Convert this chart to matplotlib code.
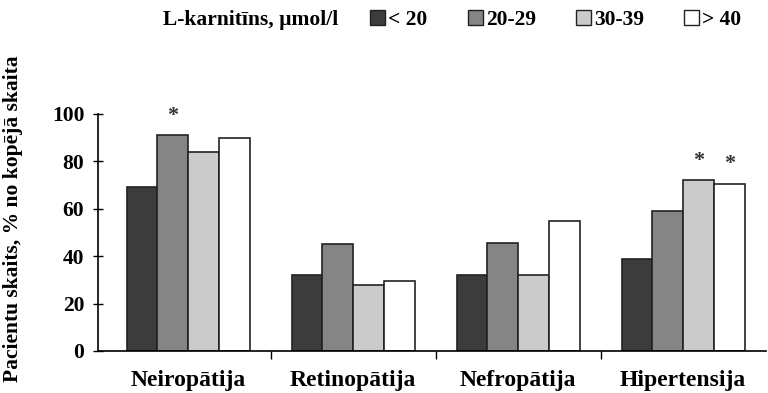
import matplotlib.pyplot as plt
import numpy as np
from matplotlib.patches import Patch

plt.rcParams["font.family"] = ["Liberation Serif", "DejaVu Serif"]
plt.rcParams["font.weight"] = "bold"

categories = ["Neiropātija", "Retinopātija", "Nefropātija", "Hipertensija"]
groups = ["< 20", "20-29", "30-39", "> 40"]
values = [
    [69, 32, 32, 39],   # < 20
    [91, 45, 45.5, 59],  # 20-29
    [84, 28, 32, 72],   # 30-39
    [90, 29.5, 55, 70.5],  # > 40
]
colors = ["#3c3c3c", "#858585", "#cbcbcb", "#ffffff"]
# significance marks: (group index, category index)
stars = [(1, 0), (2, 3), (3, 3)]

fig = plt.figure(figsize=(7.68, 3.93), dpi=100)
ax = fig.add_axes([0.127, 0.107, 0.87, 0.603])

x = np.arange(len(categories))
w = 0.187
for i, (vals, c) in enumerate(zip(values, colors)):
    ax.bar(x + (i - 1.5) * w, vals, w, color=c, edgecolor="#222222", linewidth=1.2)

for g, k in stars:
    ax.text(x[k] + (g - 1.5) * w, values[g][k] + 4, "*", ha="center", va="bottom",
            fontsize=16, color="#333333")

ax.set_xlim(-0.55, 3.5)
ax.set_ylim(0, 100)
ax.set_yticks([0, 20, 40, 60, 80, 100])
ax.set_xticks(x)
ax.set_xticklabels(categories)
ax.set_xticks([0.5, 1.5, 2.5], minor=True)
ax.tick_params(axis="x", which="major", length=0, labelsize=17, pad=14)
ax.tick_params(axis="x", which="minor", length=6, direction="out", width=1)
ax.tick_params(axis="y", length=7, direction="inout", width=1, labelsize=15.5, pad=6)
ax.set_ylabel("Pacientu skaits, % no kopējā skaita", fontsize=15.5, fontweight="bold")
ax.yaxis.set_label_coords(-0.112, 0.56)
for s in ["top", "right"]:
    ax.spines[s].set_visible(False)
ax.spines["left"].set_linewidth(1.2)
ax.spines["bottom"].set_linewidth(1.2)

fig.text(0.212, 0.949, "L-karnitīns, µmol/l", fontsize=15.5, va="center")
handles = [Patch(facecolor=c, edgecolor="#222222", linewidth=1) for c in colors]
fig.legend(handles, groups, loc="center left", bbox_to_anchor=(0.482, 0.949), ncol=4,
           frameon=False, fontsize=15.5, handlelength=0.7, handleheight=0.7,
           handletextpad=0.15, columnspacing=1.85, borderaxespad=0, borderpad=0)

fig.savefig("out.png", dpi=100)
